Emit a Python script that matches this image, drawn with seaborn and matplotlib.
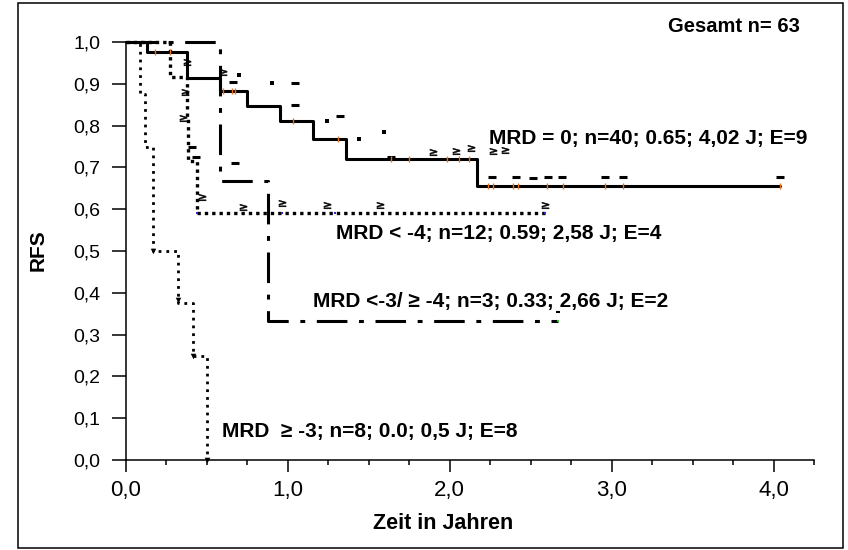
import numpy as np
import pandas as pd
import matplotlib
matplotlib.use("Agg")
import matplotlib.pyplot as plt
import seaborn as sns
from matplotlib.patches import Rectangle
from matplotlib.ticker import MultipleLocator

# ---------------- data ----------------
# MRD = 0 (solid)
mrd0_t = [0.0, 0.128, 0.378, 0.58, 0.75, 0.95, 1.155, 1.356, 2.17, 4.04]
mrd0_s = [1.0, 0.975, 0.913, 0.883, 0.847, 0.812, 0.767, 0.719, 0.655, 0.655]
# MRD < -4 (coarse dotted)
mrd4_t = [0.0, 0.27, 0.378, 0.385, 0.44, 2.586]
mrd4_s = [1.0, 0.917, 0.82, 0.715, 0.591, 0.591]
# MRD <-3 / >= -4 (dash-dot)
mrd34_t = [0.0, 0.58, 0.877, 2.669]
mrd34_s = [1.0, 0.667, 0.333, 0.333]
# MRD >= -3 (fine dotted)
mrd3_t = [0.0, 0.086, 0.117, 0.169, 0.323, 0.415, 0.498]
mrd3_s = [1.0, 0.875, 0.75, 0.5, 0.375, 0.25, 0.0]

# censor marks (as drawn in the picture)
dash_t = [0.662, 1.043, 1.043, 1.321, 1.64, 0.673, 2.263, 2.41, 2.514, 2.607,
          2.696, 2.957, 3.07, 4.04, 0.405, 0.432]
dash_s = [0.905, 0.903, 0.849, 0.823, 0.726, 0.711, 0.678, 0.678, 0.675, 0.678,
          0.678, 0.678, 0.678, 0.678, 0.75, 0.726]
sq_t = [0.70, 0.90, 1.239, 1.44, 1.593]
sq_s = [0.921, 0.901, 0.812, 0.768, 0.784]
ge_t = [0.60, 1.897, 2.04, 2.134, 2.267, 2.34, 0.375, 0.364, 0.354, 0.467,
        0.724, 0.961, 1.239, 1.568, 2.586]
ge_s = [0.929, 0.738, 0.740, 0.746, 0.740, 0.742, 0.953, 0.881, 0.817, 0.63,
        0.606, 0.614, 0.61, 0.61, 0.61]
tick0_t = [0.179, 0.27, 0.60, 0.655, 0.673, 1.03, 1.31, 1.64, 1.75, 1.98, 2.06,
           2.12, 2.235, 2.267, 2.39, 2.42, 2.60, 2.70, 2.96, 3.07, 4.04]
blue_t = [0.44, 0.963, 1.29, 2.586]
corner3_t = [0.169, 0.323, 0.415, 0.498]
corner3_s = [0.5, 0.383, 0.25, 0.0]
end34_t = [2.669]
end34_s = [0.355]

xticks = [0, 1, 2, 3, 4]
xtick_labels = ["0,0", "1,0", "2,0", "3,0", "4,0"]
yticks = [0.0, 0.1, 0.2, 0.3, 0.4, 0.5, 0.6, 0.7, 0.8, 0.9, 1.0]
ytick_labels = ["0,0", "0,1", "0,2", "0,3", "0,4", "0,5", "0,6", "0,7", "0,8", "0,9", "1,0"]

labels = {
    "mrd0": "MRD = 0; n=40; 0.65; 4,02 J; E=9",
    "mrd4": "MRD < -4; n=12; 0.59; 2,58 J; E=4",
    "mrd34": "MRD <-3/ \u2265 -4; n=3; 0.33; 2,66 J; E=2",
    "mrd3": "MRD  \u2265 -3; n=8; 0.0; 0,5 J; E=8",
}


def step_at(ts, ss, t):
    ts = np.asarray(ts)
    ss = np.asarray(ss)
    idx = np.searchsorted(ts, t, side="right") - 1
    return ss[idx]


# ---------------- figure ----------------
sns.set_theme(style="white")
plt.rcParams["font.family"] = ["Liberation Sans", "DejaVu Sans"]

fig = plt.figure(figsize=(8.48, 5.5), dpi=100)
fig.patch.set_facecolor("white")
ax = fig.add_axes([126 / 848, 90 / 550, 688 / 848, 418 / 550])
ax.set_facecolor("white")

common = dict(estimator=None, sort=False, drawstyle="steps-post",
              color="black", clip_on=False, ax=ax, legend=False)

sns.lineplot(x=mrd3_t, y=mrd3_s, lw=2.0, linestyle=(0, (1, 1.8)), zorder=3, **common)
sns.lineplot(x=mrd4_t, y=mrd4_s, lw=2.4, linestyle=(0, (1, 1.2)), zorder=3, **common)
sns.lineplot(x=mrd34_t, y=mrd34_s, lw=2.2, linestyle=(0, (10, 3.8, 1.6, 3.8)), zorder=4, **common)
sns.lineplot(x=mrd0_t, y=mrd0_s, lw=2.2, linestyle="-", zorder=5, **common)

# censor marks
sns.scatterplot(x=dash_t, y=dash_s, marker="_", s=28, linewidth=2.2, color="black",
                ax=ax, clip_on=False, zorder=6, legend=False)
sns.scatterplot(x=sq_t, y=sq_s, marker="s", s=10, linewidth=0, color="black",
                ax=ax, clip_on=False, zorder=6, legend=False)
sns.scatterplot(x=ge_t, y=ge_s, marker=r"$\geq$", s=26, linewidth=0.4,
                color="black", edgecolor="black", ax=ax, clip_on=False, zorder=6, legend=False)
tick0_s = [step_at(mrd0_t, mrd0_s, t) for t in tick0_t]
sns.scatterplot(x=tick0_t, y=tick0_s, marker="|", s=14, linewidth=1.0, color="#e8741c",
                ax=ax, clip_on=False, zorder=7, legend=False)
blue_s = [step_at(mrd4_t, mrd4_s, t) for t in blue_t]
sns.scatterplot(x=blue_t, y=blue_s, marker="s", s=4, linewidth=0, color="#2a2ad8",
                ax=ax, clip_on=False, zorder=7, legend=False)
sns.scatterplot(x=corner3_t, y=corner3_s, marker="v", s=16, linewidth=0, color="black",
                ax=ax, clip_on=False, zorder=6, legend=False)
sns.scatterplot(x=end34_t, y=end34_s, marker="_", s=10, linewidth=1.5, color="black",
                ax=ax, clip_on=False, zorder=6, legend=False)
sns.scatterplot(x=[mrd34_t[-1]], y=[mrd34_s[-1]], marker="s", s=4, linewidth=0,
                color="#22cc22", ax=ax, clip_on=False, zorder=7, legend=False)

# ---------------- axes styling ----------------
ax.set_xlim(0, 4.25)
ax.set_ylim(0, 1.0)
ax.set_xticks(xticks)
ax.set_xticklabels(xtick_labels)
ax.xaxis.set_minor_locator(MultipleLocator(0.25))
ax.set_yticks(yticks)
ax.set_yticklabels(ytick_labels)

for side in ["top", "right"]:
    ax.spines[side].set_visible(False)
for side in ["left", "bottom"]:
    ax.spines[side].set_color("black")
    ax.spines[side].set_linewidth(1.1)

ax.tick_params(axis="y", which="major", direction="out", length=10, width=1.1,
               pad=8.5, labelsize=14, colors="black", left=True)
ax.tick_params(axis="x", which="major", direction="out", length=8.6, width=1.1,
               pad=5.5, labelsize=16, colors="black", bottom=True)
ax.tick_params(axis="x", which="minor", direction="out", length=3.6, width=1.1,
               colors="black", bottom=True)
ax.grid(False)

ax.set_xlabel("Zeit in Jahren", fontsize=15.5, fontweight="bold", color="black")
ax.xaxis.set_label_coords(0.461, -0.127)
ax.set_ylabel("RFS", fontsize=15, fontweight="bold", color="black")
ax.yaxis.set_label_coords(-0.1135, 0.502)

# curve annotations
tk = dict(fontsize=15, fontweight="bold", color="black", ha="left", va="center")
ax.text(2.24, 0.770, labels["mrd0"], **tk)
ax.text(1.30, 0.543, labels["mrd4"], **tk)
ax.text(1.155, 0.378, labels["mrd34"], **tk)
ax.text(0.59, 0.067, labels["mrd3"], **tk)

fig.text(668 / 848, 1 - 27 / 550, "Gesamt n= 63", fontsize=14.5, fontweight="bold",
         color="black", ha="left", va="center")

# outer frame
fig.add_artist(Rectangle((18 / 848, 2 / 550), 825 / 848, 545 / 550,
                         transform=fig.transFigure, fill=False, lw=1.1, ec="black"))

fig.savefig("out.png", dpi=100, facecolor="white")
